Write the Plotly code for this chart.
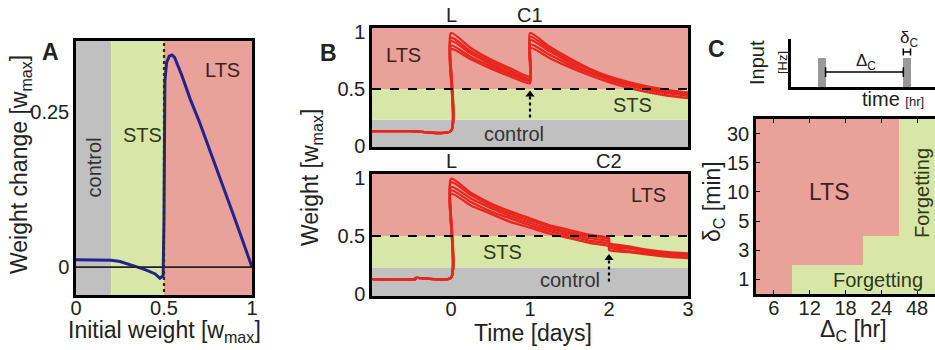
import plotly.graph_objects as go

# ---------------- DATA ----------------
# Panel A: weight change vs initial weight
a_w0 = [0.0, 0.05, 0.1, 0.15, 0.2, 0.25, 0.3, 0.35, 0.4, 0.45, 0.477, 0.495, 0.5, 0.505, 0.515, 0.53, 0.545,
        0.56, 0.6, 0.65, 0.7, 0.75, 0.8, 0.85, 0.9, 0.95, 1.0]
a_dw = [0.012, 0.012, 0.012, 0.0115, 0.011, 0.009, 0.005, 0.0, -0.005, -0.011, -0.018, -0.014, 0.08, 0.30, 0.33,
        0.34, 0.342, 0.338, 0.31, 0.27, 0.235, 0.197, 0.158, 0.12, 0.08, 0.04, 0.0]

# Region thresholds
control_max = 0.2
lts_min = 0.5
b_control_max = 0.23

# Panel B top: L at t=0, C1 at t=1
pre_t = [-1.0, -0.5, 0.0]
pre_w = [0.13, 0.13, 0.13]
seg_t = [0.0, 0.25, 0.5, 0.75, 1.0]
seg2_t = [1.0, 1.25, 1.5, 1.75, 2.0, 2.25, 2.5, 2.75, 3.0]
top_seg1 = [
    [0.99, 0.86, 0.76, 0.68, 0.61],
    [0.95, 0.83, 0.74, 0.66, 0.59],
    [0.92, 0.81, 0.72, 0.64, 0.58],
    [0.88, 0.78, 0.70, 0.63, 0.57],
    [0.85, 0.76, 0.68, 0.61, 0.55],
]
top_seg2 = [
    [0.99, 0.87, 0.77, 0.68, 0.61, 0.56, 0.52, 0.49, 0.47],
    [0.96, 0.85, 0.75, 0.67, 0.60, 0.55, 0.51, 0.48, 0.46],
    [0.93, 0.83, 0.73, 0.65, 0.59, 0.54, 0.50, 0.47, 0.45],
    [0.89, 0.80, 0.71, 0.64, 0.58, 0.53, 0.49, 0.46, 0.44],
    [0.86, 0.77, 0.69, 0.62, 0.56, 0.51, 0.47, 0.44, 0.42],
]
# Panel B bottom: L at t=0, C2 at t=2
bpre_t = [-1.0, -0.45, -0.45, 0.0]
bpre_w = [0.13, 0.13, 0.14, 0.14]
bseg_t = [0.0, 0.25, 0.5, 0.75, 1.0, 1.25, 1.5, 1.75, 2.0]
bseg2_t = [2.0, 2.25, 2.5, 2.75, 3.0]
bot_seg1 = [
    [0.99, 0.87, 0.78, 0.71, 0.65, 0.59, 0.55, 0.51, 0.48],
    [0.96, 0.85, 0.76, 0.69, 0.63, 0.58, 0.53, 0.50, 0.47],
    [0.92, 0.82, 0.74, 0.67, 0.61, 0.56, 0.52, 0.48, 0.45],
    [0.89, 0.79, 0.71, 0.65, 0.59, 0.54, 0.50, 0.46, 0.43],
    [0.86, 0.76, 0.69, 0.62, 0.57, 0.52, 0.48, 0.44, 0.41],
]
bot_seg2 = [
    [0.44, 0.41, 0.38, 0.36, 0.35],
    [0.43, 0.40, 0.37, 0.35, 0.34],
    [0.41, 0.39, 0.36, 0.34, 0.33],
    [0.40, 0.37, 0.35, 0.33, 0.32],
    [0.38, 0.36, 0.34, 0.32, 0.31],
]
c1_time = 1.0
c2_time = 2.0
arrow_top = [0.25, 0.45]
arrow_bot = [0.11, 0.31]

# Panel C schematic
pulse_start = [0.19, 0.78]
pulse_width = 0.05
pulse_height = 0.6
interval_y = 0.31

# Panel C heatmap
delta_labels = ["6", "12", "18", "24", "48"]
dur_labels = ["1", "3", "5", "10", "15", "30"]
lts_map = [
    [1, 0, 0, 0, 0],
    [1, 1, 1, 0, 0],
    [1, 1, 1, 1, 0],
    [1, 1, 1, 1, 0],
    [1, 1, 1, 1, 0],
    [1, 1, 1, 1, 0],
]

# ---------------- STYLE ----------------
FONT = "Liberation Sans, Arial, sans-serif"
GRAY = "#C0C0C0"
GREEN = "#D8E7A7"
RED = "#E8A29A"
LINE_RED = "#E8261E"
NAVY = "#23238C"
W, H = 935, 350


def px(x):
    return x / W


def py(y):
    return 1 - y / H


fig = go.Figure()

# Panel A curve
fig.add_trace(go.Scatter(x=a_w0, y=a_dw, mode="lines", line=dict(color=NAVY, width=3),
                         xaxis="x", yaxis="y", showlegend=False))
fig.add_trace(go.Scatter(x=[0, 1], y=[0, 0], mode="lines", line=dict(color="#222", width=1.8),
                         xaxis="x", yaxis="y", showlegend=False))
fig.add_trace(go.Scatter(x=[lts_min, lts_min], y=[-0.05, 0.37], mode="lines",
                         line=dict(color="#3a2a00", width=2.2, dash="dot"),
                         xaxis="x", yaxis="y", showlegend=False))

# Panel B top
for s1, s2 in zip(top_seg1, top_seg2):
    xs = pre_t + seg_t + seg2_t
    ys = pre_w + s1 + s2
    fig.add_trace(go.Scatter(x=xs, y=ys, mode="lines", line=dict(color=LINE_RED, width=2.3, shape="spline",
                                                                  smoothing=0.6),
                             xaxis="x2", yaxis="y2", showlegend=False))
# Panel B bottom
for s1, s2 in zip(bot_seg1, bot_seg2):
    xs = bpre_t + bseg_t + bseg2_t
    ys = bpre_w + s1 + s2
    fig.add_trace(go.Scatter(x=xs, y=ys, mode="lines", line=dict(color=LINE_RED, width=2.3, shape="spline",
                                                                  smoothing=0.6),
                             xaxis="x3", yaxis="y3", showlegend=False))

for xa, ya in (("x2", "y2"), ("x3", "y3")):
    fig.add_trace(go.Scatter(x=[-1, 3], y=[lts_min, lts_min], mode="lines",
                             line=dict(color="black", width=2, dash="dash"),
                             xaxis=xa, yaxis=ya, showlegend=False))

# dashed arrows
for xa, ya, t, ay in (("x2", "y2", c1_time, arrow_top), ("x3", "y3", c2_time, arrow_bot)):
    fig.add_trace(go.Scatter(x=[t, t], y=ay, mode="lines", line=dict(color="black", width=2.2, dash="dot"),
                             xaxis=xa, yaxis=ya, showlegend=False))
    fig.add_trace(go.Scatter(x=[t], y=[ay[1]], mode="markers",
                             marker=dict(symbol="triangle-up", size=8, color="black"),
                             xaxis=xa, yaxis=ya, showlegend=False))

# Panel C schematic pulses
fig.add_trace(go.Bar(x=[p + pulse_width / 2 for p in pulse_start], y=[pulse_height] * 2, width=pulse_width,
                     marker=dict(color="#999999", line=dict(width=0)), xaxis="x4", yaxis="y4",
                     showlegend=False))
fig.add_trace(go.Scatter(x=[pulse_start[0] + pulse_width, pulse_start[1]], y=[interval_y] * 2,
                         mode="lines+markers", line=dict(color="black", width=1.5),
                         marker=dict(symbol="line-ns", size=7, line=dict(width=1.5, color="black")),
                         xaxis="x4", yaxis="y4", showlegend=False))
fig.add_trace(go.Scatter(x=[pulse_start[1], pulse_start[1] + pulse_width], y=[0.73, 0.73],
                         mode="lines+markers", line=dict(color="black", width=1.5),
                         marker=dict(symbol="line-ns", size=5, line=dict(width=1.5, color="black")),
                         xaxis="x4", yaxis="y4", showlegend=False))

# Panel C heatmap
fig.add_trace(go.Heatmap(x=delta_labels, y=dur_labels, z=lts_map, zmin=0, zmax=1,
                         colorscale=[[0, GREEN], [1, RED]], showscale=False,
                         xaxis="x5", yaxis="y5", xgap=0, ygap=0))

frame = dict(showline=True, linecolor="black", linewidth=2.5, mirror=True, showgrid=False, zeroline=False,
             automargin=False, tickfont=dict(family=FONT, size=20, color="#222"))
plain = dict(showline=True, linecolor="black", linewidth=2.5, showgrid=False, zeroline=False,
             showticklabels=False, ticks="", automargin=False)

xf = dict(frame)
xf["ticklabelstandoff"] = -7
hx = dict(frame)
hx["ticklabelstandoff"] = -6
hx["mirror"] = "ticks"
hy = dict(frame)
hy["mirror"] = False

layout = dict(
    width=W, height=H, margin=dict(l=0, r=0, t=0, b=0, pad=0),
    paper_bgcolor="white", plot_bgcolor="rgba(0,0,0,0)",
    font=dict(family=FONT, color="#222"),
    xaxis=dict(domain=[px(76), px(252)], range=[0, 1], tickvals=[0, 0.5, 1], ticktext=["0", "0.5", "1"],
               ticks="", anchor="y", **xf),
    yaxis=dict(domain=[py(295), py(41)], range=[-0.045, 0.3645], tickvals=[0, 0.25], ticktext=["0", "0.25"],
               ticks="", anchor="x", **frame),
    xaxis2=dict(domain=[px(372), px(688)], range=[-1, 3], showticklabels=False, ticks="", anchor="y2", **frame),
    yaxis2=dict(domain=[py(147), py(28)], range=[-0.01, 1.035], tickvals=[0, 0.5, 1], ticktext=["0", "0.5", "1"],
                ticks="", anchor="x2", **frame),
    xaxis3=dict(domain=[px(372), px(688)], range=[-1, 3], tickvals=[0, 1, 2, 3], ticks="", anchor="y3", **xf),
    yaxis3=dict(domain=[py(296), py(174)], range=[-0.015, 1.03], tickvals=[0, 0.5, 1], ticktext=["0", "0.5", "1"],
                ticks="", anchor="x3", **frame),
    xaxis4=dict(domain=[px(791), 1.0], range=[0, 1], anchor="y4", **plain),
    yaxis4=dict(domain=[py(87), py(39)], range=[0, 1], anchor="x4", **plain),
    xaxis5=dict(domain=[px(756), 1.0], type="category", ticks="inside", ticklen=4, tickcolor="black",
                anchor="y5", **hx),
    yaxis5=dict(domain=[py(294), py(119)], type="category", ticks="inside", ticklen=4, tickcolor="black",
                anchor="x5", **hy),
    bargap=0,
)

shapes = []
# Panel A regions
for x0, x1, c in ((0, control_max, GRAY), (control_max, lts_min, GREEN), (lts_min, 1, RED)):
    shapes.append(dict(type="rect", xref="x", yref="y domain", x0=x0, x1=x1, y0=0, y1=1,
                       fillcolor=c, line=dict(width=0), layer="below"))
# Panel B regions
for xr, yr in (("x2 domain", "y2"), ("x3 domain", "y3")):
    for y0, y1, c in ((-0.05, b_control_max, GRAY), (b_control_max, lts_min, GREEN), (lts_min, 1.1, RED)):
        shapes.append(dict(type="rect", xref=xr, yref=yr, x0=0, x1=1, y0=y0, y1=y1,
                           fillcolor=c, line=dict(width=0), layer="below"))
layout["shapes"] = shapes

TXT = 20
ann = []


def add(text, x, y, size=TXT, color="#222", angle=0, xref="paper", yref="paper", bold=False, xanchor="center",
        yanchor="middle"):
    if bold:
        text = "<b>" + text + "</b>"
    ann.append(dict(text=text, x=x, y=y, xref=xref, yref=yref, showarrow=False, textangle=angle,
                    font=dict(family=FONT, size=size, color=color), xanchor=xanchor, yanchor=yanchor))


# Panel labels
add("A", px(50), py(52), size=23, bold=True)
add("B", px(328), py(53), size=23, bold=True)
add("C", px(716), py(49), size=23, bold=True)

# Panel A texts
add("Weight change [w<sub>max</sub>]", px(20), py(165), size=23, angle=-90)
add("Initial weight [w<sub>max</sub>]", px(164), py(331), size=23)
add("control", 0.1, 0.16, angle=-90, xref="x", yref="y", color="#333")
add("STS", 0.375, 0.213, xref="x", yref="y", color="#2d3a1c")
add("LTS", 0.835, 0.318, xref="x", yref="y", color="#3e1f1f")

# Panel B texts
add("Weight [w<sub>max</sub>]", px(311), py(178), size=23, angle=-90)
add("Time [days]", px(533), py(333), size=23)
add("L", 0, 1.0, xref="x2", yref="y2 domain", yanchor="bottom")
add("C1", c1_time, 1.0, xref="x2", yref="y2 domain", yanchor="bottom")
add("L", 0, 1.0, xref="x3", yref="y3 domain", yanchor="bottom")
add("C2", c2_time, 1.0, xref="x3", yref="y3 domain", yanchor="bottom")
add("LTS", -0.6, 0.8, xref="x2", yref="y2", color="#3e1f1f")
add("STS", 2.3, 0.36, xref="x2", yref="y2", color="#2d3a1c")
add("control", 0.8, 0.1, xref="x2", yref="y2", color="#333")
add("LTS", 2.5, 0.85, xref="x3", yref="y3", color="#3e1f1f")
add("STS", 0.65, 0.36, xref="x3", yref="y3", color="#2d3a1c")
add("control", 1.5, 0.12, xref="x3", yref="y3", color="#333")

# Panel C schematic texts
add("Input", px(757), py(63), size=20, angle=-90)
add("[Hz]", px(783), py(63), size=13, angle=-90)
add("time <span style='font-size:13px'>[hr]</span>", px(893), py(99), size=20)
add("Δ<sub>C</sub>", px(866), py(62), size=17)
add("δ<sub>C</sub>", px(909), py(39), size=17)

# Panel C heatmap texts
add("LTS", px(829), py(192), size=23, color="#3e1f1f")
add("Forgetting", px(878), py(280), size=20, color="#2d3a1c")
add("Forgetting", px(922), py(193), size=20, color="#2d3a1c", angle=-90)
add("δ<sub>C</sub> [min]", px(713), py(202), size=23, angle=-90)
add("Δ<sub>C</sub> [hr]", px(853), py(330), size=23)

layout["annotations"] = ann
fig.update_layout(**layout)
fig.write_html("out.html")
